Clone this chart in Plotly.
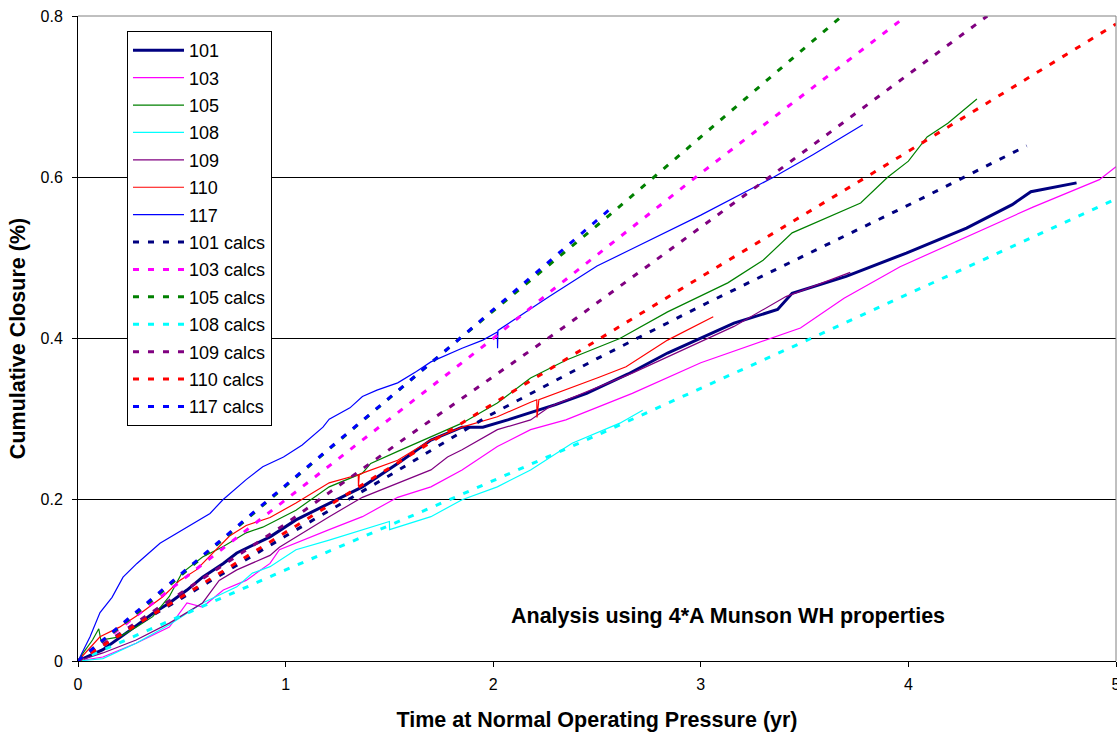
import plotly.graph_objects as go

# Measured data
t_101 = [0, 0.12, 0.25, 0.36, 0.44, 0.525, 0.6, 0.7, 0.765, 0.86, 0.925, 1.05, 1.21, 1.37, 1.54, 1.70, 1.85, 1.95, 2.07, 2.18, 2.3, 2.45, 2.65, 2.84, 3.0, 3.16, 3.37, 3.44, 3.7, 3.99, 4.28, 4.5, 4.59, 4.81]
v_101 = [0, 0.014, 0.038, 0.059, 0.072, 0.088, 0.104, 0.121, 0.134, 0.146, 0.154, 0.175, 0.196, 0.216, 0.245, 0.274, 0.29, 0.29, 0.299, 0.308, 0.318, 0.332, 0.356, 0.382, 0.40, 0.419, 0.436, 0.456, 0.477, 0.506, 0.537, 0.566, 0.582, 0.593]

t_103 = [0, 0.12, 0.28, 0.44, 0.525, 0.6, 0.7, 0.81, 0.925, 0.97, 1.21, 1.37, 1.54, 1.70, 1.85, 2.02, 2.18, 2.35, 2.67, 3.0, 3.48, 3.69, 3.96, 4.28, 4.6, 4.76, 4.92, 5.0]
v_103 = [0, 0.005, 0.022, 0.042, 0.072, 0.067, 0.088, 0.1, 0.121, 0.138, 0.163, 0.179, 0.203, 0.216, 0.237, 0.266, 0.287, 0.299, 0.332, 0.37, 0.413, 0.45, 0.489, 0.526, 0.563, 0.58, 0.597, 0.613]

t_105 = [0, 0.025, 0.07, 0.1, 0.11, 0.2, 0.28, 0.36, 0.44, 0.5, 0.6, 0.7, 0.81, 0.89, 1.05, 1.21, 1.37, 1.41, 1.54, 1.70, 1.85, 2.02, 2.18, 2.35, 2.61, 2.84, 3.13, 3.3, 3.44, 3.77, 3.9, 4.0, 4.09, 4.19, 4.33]
v_105 = [0, 0.01, 0.026, 0.04, 0.026, 0.03, 0.042, 0.055, 0.08, 0.109, 0.129, 0.142, 0.159, 0.166, 0.187, 0.216, 0.233, 0.245, 0.26, 0.278, 0.295, 0.32, 0.351, 0.373, 0.40, 0.433, 0.469, 0.497, 0.531, 0.568, 0.60, 0.62, 0.65, 0.667, 0.697]

t_108 = [0, 0.12, 0.28, 0.44, 0.6, 0.765, 0.84, 0.925, 1.05, 1.21, 1.5, 1.501, 1.7, 1.85, 2.02, 2.18, 2.38, 2.61, 2.72]
v_108 = [0, 0.003, 0.022, 0.045, 0.072, 0.092, 0.109, 0.117, 0.138, 0.15, 0.173, 0.163, 0.179, 0.2, 0.216, 0.237, 0.27, 0.295, 0.311]

t_109 = [0, 0.12, 0.28, 0.44, 0.6, 0.68, 0.765, 0.925, 0.97, 1.21, 1.37, 1.54, 1.70, 1.78, 1.85, 2.02, 2.18, 2.27, 2.67, 3.16, 3.41, 3.72]
v_109 = [0, 0.01, 0.026, 0.047, 0.072, 0.1, 0.113, 0.131, 0.141, 0.179, 0.203, 0.221, 0.237, 0.253, 0.262, 0.287, 0.299, 0.315, 0.357, 0.415, 0.452, 0.482]

t_110 = [0, 0.106, 0.2, 0.3, 0.41, 0.49, 0.57, 0.65, 0.73, 0.81, 0.925, 1.05, 1.21, 1.35, 1.351, 1.355, 1.37, 1.54, 1.70, 1.85, 2.02, 2.18, 2.21, 2.211, 2.22, 2.51, 2.64, 2.84, 3.06]
v_110 = [0, 0.03, 0.042, 0.059, 0.08, 0.1, 0.113, 0.134, 0.155, 0.168, 0.178, 0.196, 0.221, 0.231, 0.217, 0.231, 0.233, 0.249, 0.274, 0.29, 0.303, 0.321, 0.324, 0.302, 0.324, 0.352, 0.365, 0.398, 0.427]

t_117 = [0, 0.058, 0.106, 0.164, 0.217, 0.284, 0.395, 0.506, 0.636, 0.698, 0.81, 0.89, 0.99, 1.08, 1.18, 1.21, 1.31, 1.37, 1.44, 1.54, 1.63, 1.70, 1.85, 1.95, 2.02, 2.021, 2.023, 2.27, 2.5, 2.66, 3.0, 3.35, 3.54, 3.78]
v_117 = [0, 0.03, 0.06, 0.079, 0.104, 0.121, 0.146, 0.163, 0.183, 0.2, 0.225, 0.241, 0.253, 0.268, 0.29, 0.30, 0.314, 0.328, 0.336, 0.345, 0.359, 0.371, 0.388, 0.398, 0.408, 0.388, 0.41, 0.452, 0.49, 0.51, 0.553, 0.60, 0.628, 0.665]

# Calculated data
tc_101 = [0, 0.25, 0.5, 1, 1.5, 1.97, 2.5, 3.03, 3.5, 4.02, 4.57]
vc_101 = [0, 0.04, 0.078, 0.155, 0.23, 0.303, 0.375, 0.444, 0.503, 0.568, 0.639]
tc_103 = [0, 0.5, 1, 2, 2.27, 3, 3.99]
vc_103 = [0, 0.1, 0.2, 0.40, 0.457, 0.605, 0.80]
tc_105 = [0, 0.3, 0.94, 1.83, 2.56, 3.68]
vc_105 = [0, 0.063, 0.204, 0.398, 0.553, 0.80]
tc_108 = [0, 0.5, 1, 1.825, 2.5, 3.53, 5]
vc_108 = [0, 0.056, 0.113, 0.204, 0.28, 0.40, 0.573]
tc_109 = [0, 0.5, 1, 1.585, 2.34, 3.33, 4.38]
vc_109 = [0, 0.085, 0.17, 0.278, 0.414, 0.60, 0.80]
tc_110 = [0, 0.5, 1, 2.03, 3.03, 3.815, 5]
vc_110 = [0, 0.08, 0.16, 0.324, 0.481, 0.603, 0.79]
tc_117 = [0, 0.3, 0.94, 1.83, 2.56]
vc_117 = [0, 0.065, 0.205, 0.398, 0.56]

names = ["101", "103", "105", "108", "109", "110", "117"]
colors = ["#000080", "#FF00FF", "#008000", "#00FFFF", "#800080", "#FF0000", "#0000FF"]
measured = [(t_101, v_101), (t_103, v_103), (t_105, v_105), (t_108, v_108),
            (t_109, v_109), (t_110, v_110), (t_117, v_117)]
calcs = [(tc_101, vc_101), (tc_103, vc_103), (tc_105, vc_105), (tc_108, vc_108),
         (tc_109, vc_109), (tc_110, vc_110), (tc_117, vc_117)]

FONT = "Arial, Liberation Sans, sans-serif"
fig = go.Figure()
for n, c, (t, v) in zip(names, colors, measured):
    fig.add_trace(go.Scatter(x=t, y=v, mode="lines", name=n, legendgroup=n,
                             line=dict(color=c, width=3 if n == "101" else 1.2)))
for n, c, (t, v) in zip(names, colors, calcs):
    fig.add_trace(go.Scatter(x=t, y=v, mode="lines", name=n + " calcs", legendgroup=n + "c",
                             line=dict(color=c, width=3, dash="6px,9px")))

fig.update_layout(
    width=1117, height=736,
    margin=dict(l=78, r=1, t=16, b=75),
    paper_bgcolor="white", plot_bgcolor="white",
    font=dict(family=FONT, size=16, color="black"),
    showlegend=True,
    legend=dict(x=0.0472, y=0.9767, xanchor="left", yanchor="top",
                bordercolor="black", borderwidth=1, bgcolor="white",
                font=dict(size=18), tracegroupgap=1, itemwidth=51),
    xaxis=dict(range=[0, 5], dtick=1, showgrid=False, zeroline=False, automargin=False,
               showline=True, linecolor="black", linewidth=1,
               ticks="outside", ticklen=5, tickcolor="black", ticklabelstandoff=4,
               ticklabeloverflow="allow",
               tickfont=dict(size=16),
               title=dict(text="<b>Time at Normal Operating Pressure (yr)</b>",
                          font=dict(size=21.5), standoff=19)),
    yaxis=dict(range=[0, 0.8], showgrid=True, gridcolor="black", gridwidth=1,
               zeroline=False, showline=True, linecolor="black", linewidth=1, automargin=False,
               ticks="outside", ticklen=5, tickcolor="black", ticklabelstandoff=6,
               tickfont=dict(size=16),
               tickvals=[0, 0.2, 0.4, 0.6, 0.8], ticktext=["0", "0.2", "0.4", "0.6", "0.8"],
               title=dict(text="<b>Cumulative Closure (%)</b>", font=dict(size=21.5), standoff=9)),
    shapes=[
        dict(type="line", xref="paper", yref="paper", x0=0, x1=1, y0=1, y1=1,
             line=dict(color="#808080", width=1)),
        dict(type="line", xref="paper", yref="paper", x0=1, x1=1, y0=0, y1=1,
             line=dict(color="#808080", width=1)),
    ],
    annotations=[
        dict(text="<b>Analysis using 4*A Munson WH properties</b>", x=3.13, y=0.056,
             xref="x", yref="y", showarrow=False, font=dict(size=21.5))
    ],
)

fig.write_html("out.html",
               config={"displayModeBar": False},
               post_script="document.body.style.margin='0';"
                           "document.documentElement.style.overflow='hidden';"
                           "document.body.style.overflow='hidden';")
